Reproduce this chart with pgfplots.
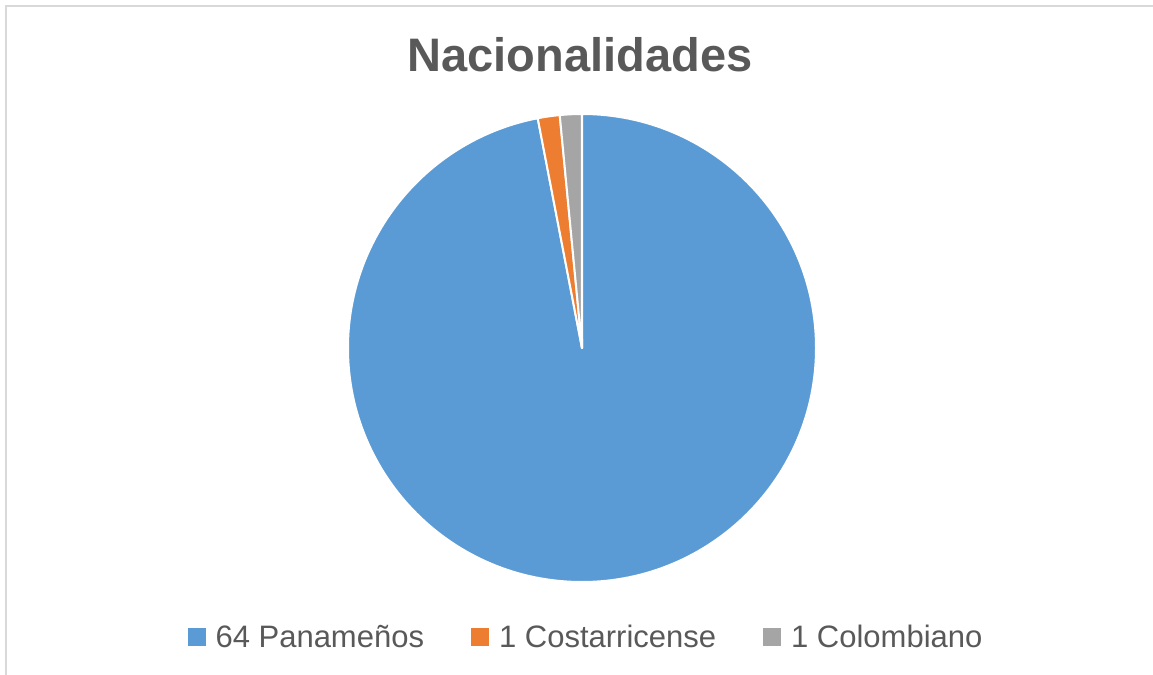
\documentclass[border=0pt]{standalone}
\usepackage{pgfplots}
\pgfplotsset{compat=1.18}
\usepackage{pgfplotstable}
\usepackage{fontspec}
\setmainfont{Liberation Sans}

\definecolor{pieblue}{HTML}{5B9BD5}
\definecolor{pieorange}{HTML}{ED7D31}
\definecolor{piegray}{HTML}{A5A5A5}
\definecolor{txtgray}{HTML}{595959}
\definecolor{framegray}{HTML}{D9D9D9}

% nacionalidades de los participantes
\pgfplotstableread{
nombre valor
Panamenos 64
Costarricense 1
Colombiano 1
}\nacionalidades

\begin{document}
\begin{tikzpicture}
    \pgfplotstablegetelem{0}{valor}\of\nacionalidades \let\vA\pgfplotsretval
    \pgfplotstablegetelem{1}{valor}\of\nacionalidades \let\vB\pgfplotsretval
    \pgfplotstablegetelem{2}{valor}\of\nacionalidades \let\vC\pgfplotsretval
    \pgfmathsetmacro\total{\vA+\vB+\vC}
    \pgfmathsetmacro\angA{90}
    \pgfmathsetmacro\angB{\angA-\vA/\total*360}
    \pgfmathsetmacro\angC{\angB-\vB/\total*360}
    \pgfmathsetmacro\angD{\angC-\vC/\total*360}
    \useasboundingbox (0,0) rectangle (1153bp,675bp);
    \begin{axis}[
        at={(0,0)}, anchor=south west,
        x=1bp, y=1bp,
        xmin=0, xmax=1153, ymin=0, ymax=675,
        hide axis, clip=false,
        legend image code/.code={
            \fill[#1, draw=none] (0bp,-9bp) rectangle (18bp,9bp);
            \path[draw=none, fill=none] (0bp,0bp) -- (26bp,0bp);},
        legend columns=-1,
        legend style={at={(axis cs:586,38)}, anchor=center, draw=none, fill=none,
            font=\fontsize{31bp}{36bp}\selectfont, text=txtgray,
            /tikz/every even column/.append style={column sep=45bp}},
        ]
        \draw[framegray, line width=2bp] (axis cs:6,669) rectangle (axis cs:1180,-30);

        \filldraw[fill=pieblue, draw=white, line width=2bp, line join=round]
            (axis cs:582,327) -- +(\angA:234bp) arc[start angle=\angA, end angle=\angB, radius=234bp] -- cycle;
        \filldraw[fill=pieorange, draw=white, line width=2bp, line join=round]
            (axis cs:582,327) -- +(\angB:234bp) arc[start angle=\angB, end angle=\angC, radius=234bp] -- cycle;
        \filldraw[fill=piegray, draw=white, line width=2bp, line join=round]
            (axis cs:582,327) -- +(\angC:234bp) arc[start angle=\angC, end angle=\angD, radius=234bp] -- cycle;

        \node[font=\bfseries\fontsize{47bp}{55bp}\selectfont, text=txtgray, anchor=base]
            at (axis cs:580,603) {Nacionalidades};

        \addlegendimage{fill=pieblue}
        \addlegendentry{64 Panameños}
        \addlegendimage{fill=pieorange}
        \addlegendentry{1 Costarricense}
        \addlegendimage{fill=piegray}
        \addlegendentry{1 Colombiano}
    \end{axis}
\end{tikzpicture}
\end{document}
